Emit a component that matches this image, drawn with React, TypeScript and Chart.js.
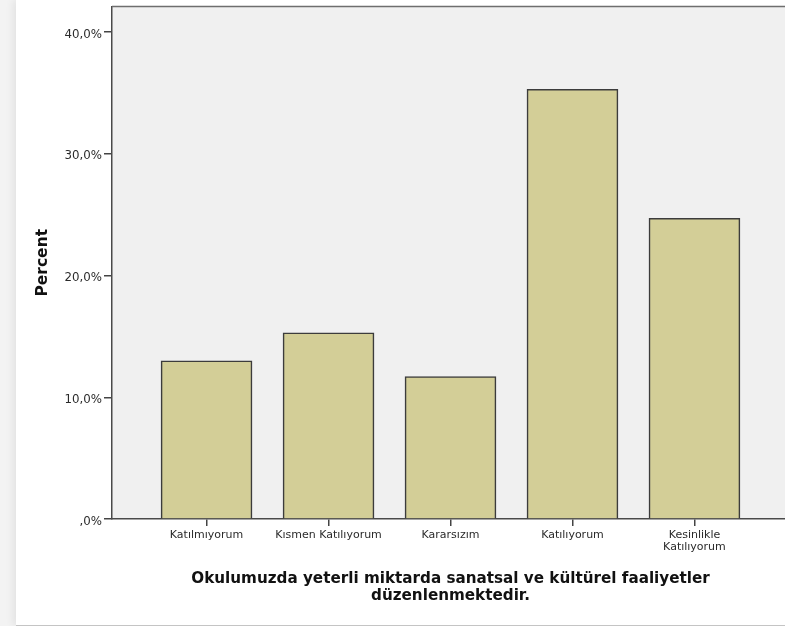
import React, { useEffect, useRef } from "react";
import { Chart, registerables } from "chart.js";

Chart.register(...registerables);

const categories = [
  "Katılmıyorum",
  "Kısmen Katılıyorum",
  "Kararsızım",
  "Katılıyorum",
  "Kesinlikle\nKatılıyorum",
];
const percentValues = [13.0, 15.3, 11.7, 35.3, 24.7];
const yTickValues = [0, 10, 20, 30, 40];
const xTitleLines = [
  "Okulumuzda yeterli miktarda sanatsal ve kültürel faaliyetler",
  "düzenlenmektedir.",
];
const yTitle = "Percent";

const formatPercent = (v: number) =>
  v === 0 ? ",0%" : v.toFixed(1).replace(".", ",") + "%";

export default function App() {
  const ref = useRef<HTMLCanvasElement>(null);

  useEffect(() => {
    if (!ref.current) return;
    const framePlugin = {
      id: "plotFrame",
      beforeDraw(chart: any) {
        const { ctx, chartArea: a } = chart;
        ctx.save();
        ctx.fillStyle = "#f0f0f0";
        ctx.fillRect(a.left, a.top, a.right - a.left, a.bottom - a.top);
        ctx.restore();
      },
      afterDraw(chart: any) {
        const { ctx, chartArea: a } = chart;
        ctx.save();
        ctx.strokeStyle = "#6e6e6e";
        ctx.lineWidth = 1.5;
        ctx.beginPath();
        ctx.moveTo(a.left, a.top);
        ctx.lineTo(a.right, a.top);
        ctx.lineTo(a.right, a.bottom);
        ctx.stroke();
        ctx.restore();
      },
    };

    const chart = new Chart(ref.current, {
      type: "bar",
      data: {
        datasets: [
          {
            data: percentValues.map((v, i) => ({ x: i, y: v })),
            backgroundColor: "#d3ce97",
            borderColor: "#3c3c3c",
            borderWidth: 1.6,
            barThickness: 91,
          },
        ],
      },
      options: {
        animation: false,
        responsive: false,
        devicePixelRatio: 1,
        layout: { padding: { top: 6.5, right: 41, left: 0, bottom: 0 } },
        plugins: {
          legend: { display: false },
          tooltip: { enabled: false },
        },
        scales: {
          x: {
            type: "linear",
            min: -0.775,
            max: 4.775,
            offset: false,
            afterBuildTicks: (s: any) => {
              s.ticks = categories.map((_, i) => ({ value: i }));
            },
            afterFit: (s: any) => {
              s.height = 106;
              s.paddingLeft = 0;
              s.paddingRight = 0;
            },
            ticks: {
              autoSkip: false,
              maxRotation: 0,
              padding: 3,
              color: "#2a2a2a",
              font: { family: "DejaVu Sans", size: 11, lineHeight: 1.1 },
              callback: (v: any) => (categories[v] ? categories[v].split("\n") : ""),
            },
            grid: {
              display: true,
              offset: false,
              drawOnChartArea: false,
              drawTicks: true,
              tickLength: 7,
              color: "#444",
              lineWidth: 1.5,
            },
            border: { display: true, color: "#4a4a4a", width: 1.5 },
            title: {
              display: true,
              text: xTitleLines,
              color: "#111",
              font: { family: "DejaVu Sans", size: 15.2, weight: "bold", lineHeight: 1.12 },
              padding: { top: 0, bottom: 20 },
            },
          },
          y: {
            type: "linear",
            min: 0,
            max: 42.1,
            afterBuildTicks: (s: any) => {
              s.ticks = yTickValues.map((v) => ({ value: v }));
            },
            afterFit: (s: any) => {
              s.width = 112;
              s.paddingTop = 0;
              s.paddingBottom = 0;
            },
            ticks: {
              padding: 2,
              labelOffset: 2.5,
              color: "#2a2a2a",
              font: { family: "DejaVu Sans", size: 11.8 },
              callback: (v: any) => formatPercent(Number(v)),
            },
            grid: {
              display: true,
              drawOnChartArea: false,
              drawTicks: true,
              tickLength: 8,
              color: "#444",
              lineWidth: 1.5,
            },
            border: { display: true, color: "#4a4a4a", width: 1.5 },
            title: {
              display: true,
              text: yTitle,
              color: "#111",
              font: { family: "DejaVu Sans", size: 15.5, weight: "bold" },
              padding: { top: 33.5, bottom: 0 },
            },
          },
        },
      },
      plugins: [framePlugin],
    } as any);

    return () => chart.destroy();
  }, []);

  return (
    <div
      style={{
        position: "fixed",
        left: 0,
        top: 0,
        width: 785,
        height: 626,
        overflow: "hidden",
        background: "#f3f3f3",
      }}
    >
      <div
        style={{
          position: "absolute",
          left: 16,
          top: 0,
          width: 900,
          height: 625,
          background: "#ffffff",
          borderBottom: "1px solid #c4c4c4",
          boxShadow: "-3px 0 8px rgba(0,0,0,0.07)",
        }}
      />
      <canvas
        ref={ref}
        width={830}
        height={625}
        style={{ position: "absolute", left: 0, top: 0, width: 830, height: 625 }}
      />
    </div>
  );
}
